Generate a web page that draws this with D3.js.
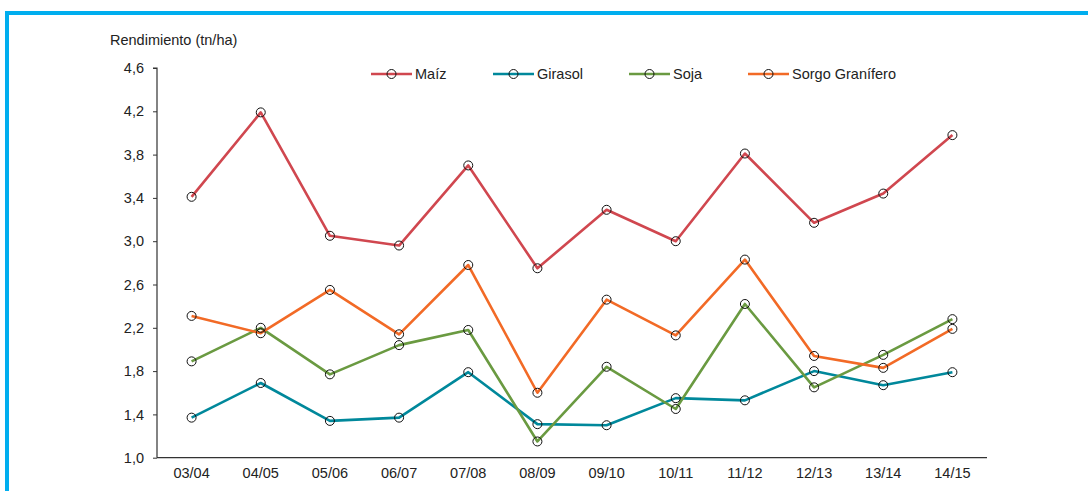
<!DOCTYPE html>
<html>
<head>
<meta charset="utf-8">
<script src="https://cdn.jsdelivr.net/npm/d3@7"></script>
<style>
  html, body { margin: 0; padding: 0; background: #fff; }
  svg { display: block; font-family: "Liberation Sans", Arial, sans-serif; }
</style>
</head>
<body>
<svg id="chart" width="1088" height="491"></svg>
<script>
const categories = ["03/04","04/05","05/06","06/07","07/08","08/09","09/10","10/11","11/12","12/13","13/14","14/15"];
const maiz    = [3.41, 4.19, 3.05, 2.96, 3.70, 2.75, 3.29, 3.00, 3.81, 3.17, 3.44, 3.98];
const girasol = [1.37, 1.69, 1.34, 1.37, 1.79, 1.31, 1.30, 1.55, 1.53, 1.80, 1.67, 1.79];
const soja    = [1.89, 2.20, 1.77, 2.04, 2.18, 1.15, 1.84, 1.45, 2.42, 1.65, 1.95, 2.28];
const sorgo   = [2.31, 2.15, 2.55, 2.14, 2.78, 1.60, 2.46, 2.13, 2.83, 1.94, 1.83, 2.19];
const seriesNames = ["Maíz", "Girasol", "Soja", "Sorgo Granífero"];
const seriesColors = ["#d0474f", "#00889b", "#6a9a41", "#f26a26"];
const yTicks = [1.0, 1.4, 1.8, 2.2, 2.6, 3.0, 3.4, 3.8, 4.2, 4.6];
const yTitle = "Rendimiento (tn/ha)";

(function () {
const series = [maiz, girasol, soja, sorgo].map((v, i) => ({ name: seriesNames[i], color: seriesColors[i], values: v }));

const svg = d3.select("#chart");

// frame
svg.append("rect").attr("x", 5).attr("y", 11).attr("width", 1083).attr("height", 4).attr("fill", "#00aeef");
svg.append("rect").attr("x", 5).attr("y", 11).attr("width", 4).attr("height", 480).attr("fill", "#00aeef");

const mLeft = 157, mRight = 987, mTop = 68, mBottom = 457.7;
const x = d3.scaleBand().domain(categories).range([mLeft, mRight]);
const y = d3.scaleLinear().domain([1.0, 4.6]).range([mBottom, mTop]);

const fmt = d => d3.format(".1f")(d).replace(".", ",");

const yAxis = svg.append("g").attr("transform", `translate(${mLeft},0)`)
  .call(d3.axisLeft(y).tickValues(yTicks).tickFormat(fmt).tickSize(4).tickPadding(9));
const xAxis = svg.append("g").attr("transform", `translate(0,${mBottom})`)
  .call(d3.axisBottom(x).tickSize(0).tickPadding(10));
[yAxis, xAxis].forEach(a => {
  a.select(".domain").attr("stroke", "#333").attr("stroke-width", 1.2);
  a.selectAll(".tick line").attr("stroke", "#333");
  a.selectAll("text").attr("fill", "#222").style("font-size", "14.5px").style("font-family", '"Liberation Sans", Arial, sans-serif');
});
yAxis.select(".domain").attr("d", `M-4,${y(4.6)}H0V${mBottom}`);
xAxis.select(".domain").attr("d", `M${mLeft},0H${mRight}`);

svg.append("text").attr("x", 110).attr("y", 45).attr("fill", "#222")
  .style("font-size", "14.5px").text(yTitle);

const line = d3.line().x((d, i) => x(categories[i]) + x.bandwidth() / 2).y(d => y(d));

series.forEach(s => {
  svg.append("path").attr("d", line(s.values)).attr("fill", "none")
    .attr("stroke", s.color).attr("stroke-width", 2.6).attr("stroke-linejoin", "round");
});
series.forEach(s => {
  svg.append("g").selectAll("circle").data(s.values).join("circle")
    .attr("cx", (d, i) => x(categories[i]) + x.bandwidth() / 2)
    .attr("cy", d => y(d))
    .attr("r", 4.5).attr("fill", "none").attr("stroke", "#111").attr("stroke-width", 1);
});

// legend
const legendX = [371, 493, 629, 748];
const legend = svg.append("g");
series.forEach((s, i) => {
  const g = legend.append("g").attr("transform", `translate(${legendX[i]},74)`);
  g.append("line").attr("x1", 0).attr("x2", 41).attr("y1", 0).attr("y2", 0)
    .attr("stroke", s.color).attr("stroke-width", 2.6);
  g.append("circle").attr("cx", 20.5).attr("cy", 0).attr("r", 4.5)
    .attr("fill", "none").attr("stroke", "#111").attr("stroke-width", 1);
  g.append("text").attr("x", 44).attr("y", 5).attr("fill", "#222")
    .style("font-size", "14.5px").text(s.name);
});
})();
</script>
</body>
</html>
